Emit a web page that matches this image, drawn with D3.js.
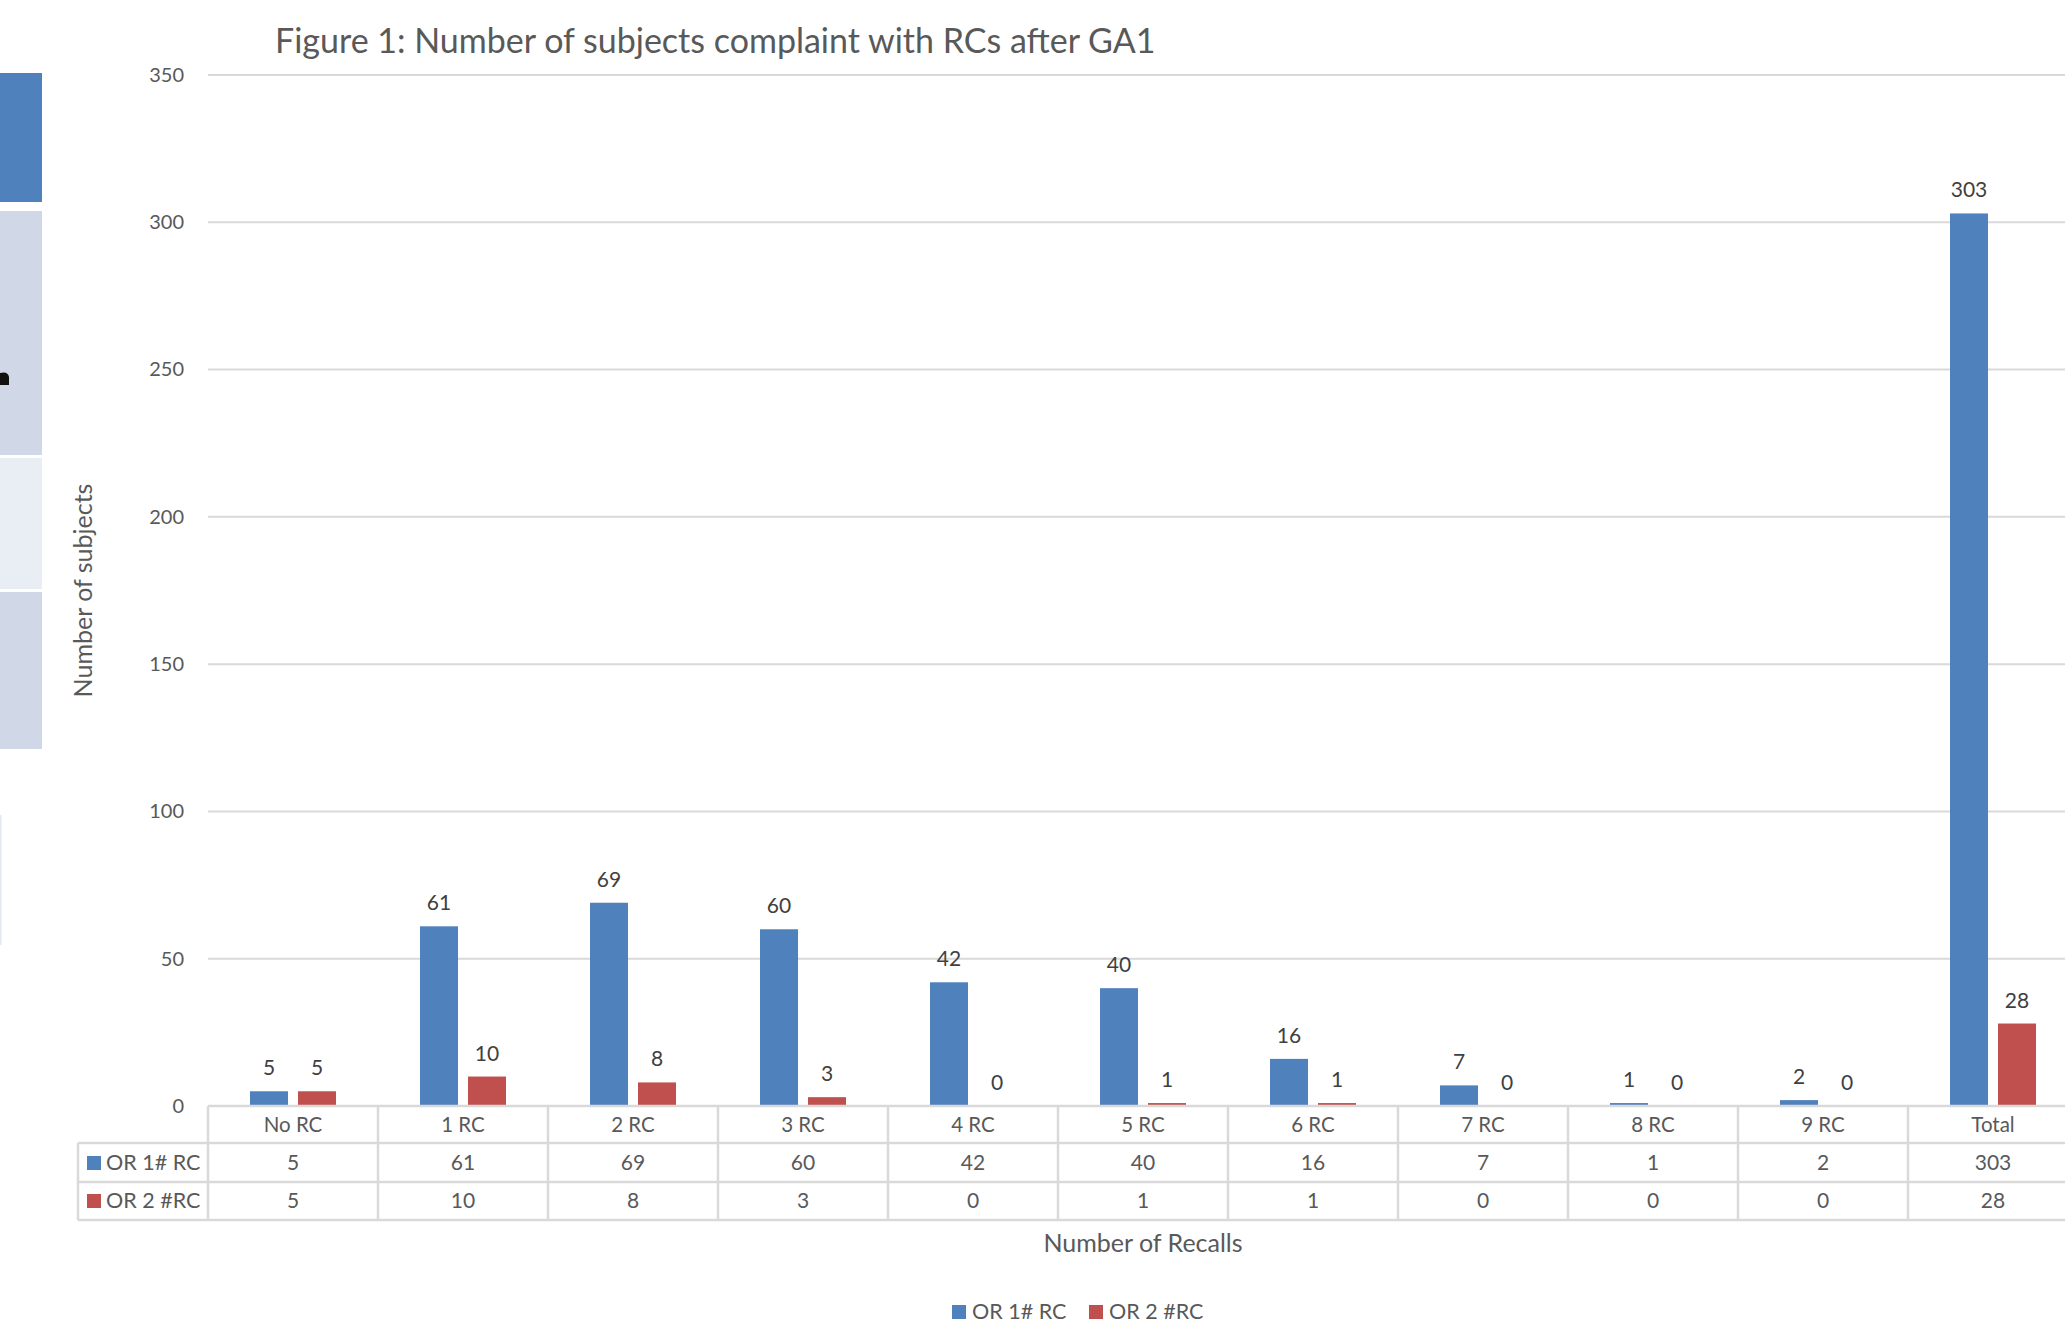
<!DOCTYPE html>
<html>
<head>
<meta charset="utf-8">
<script src="https://cdn.jsdelivr.net/npm/d3@7"></script>
<style>
  html, body { margin: 0; padding: 0; background: #ffffff; }
  svg { display: block; }
  text { font-family: Lato, "Open Sans", sans-serif; }
</style>
</head>
<body>
<svg id="chart" width="2065" height="1335"></svg>
<script>
// Recall counts per category
const categories = ["No RC", "1 RC", "2 RC", "3 RC", "4 RC", "5 RC", "6 RC", "7 RC", "8 RC", "9 RC", "Total"];
const seriesNames = ["OR 1# RC", "OR 2 #RC"];
const or1Values = [5, 61, 69, 60, 42, 40, 16, 7, 1, 2, 303];
const or2Values = [5, 10, 8, 3, 0, 1, 1, 0, 0, 0, 28];
const yTickValues = [0, 50, 100, 150, 200, 250, 300, 350];

const seriesColors = ["#4f81bd", "#c0504d"];
const textColor = "#595959";
const labelColor = "#404040";
const lineColor = "#d9d9d9";

const svg = d3.select("#chart");

// plot frame
const plotLeft = 208, colWidth = 170;
const plotRight = plotLeft + colWidth * categories.length;
const plotTop = 75, plotBottom = 1106;

const x = d3.scaleBand().domain(categories).range([plotLeft, plotRight]).padding(0);
const xSeries = d3.scaleBand().domain(seriesNames).range([42, 128]).paddingInner(0.208);
const y = d3.scaleLinear().domain([0, 350]).range([plotBottom, plotTop]);

// slide panels at the left edge
const side = svg.append("g");
[
  { y0: 73, y1: 202, fill: "#4f81bd" },
  { y0: 211, y1: 455, fill: "#d0d8e8" },
  { y0: 458, y1: 589, fill: "#e9edf4" },
  { y0: 592, y1: 749, fill: "#d0d8e8" }
].forEach(p => side.append("rect").attr("x", 0).attr("y", p.y0).attr("width", 42).attr("height", p.y1 - p.y0).attr("fill", p.fill));
side.append("path").attr("d", "M0,373 Q8,371 9,377 L9,385 L0,385 Z").attr("fill", "#111");
side.append("rect").attr("x", 0).attr("y", 815).attr("width", 1.5).attr("height", 130).attr("fill", "#e3e8f1");

// title
svg.append("text")
  .attr("x", 275).attr("y", 53)
  .attr("font-size", 34).attr("fill", textColor)
  .text("Figure 1: Number of subjects complaint with RCs after GA1");

// gridlines
svg.append("g").selectAll("line")
  .data(yTickValues.filter(v => v > 0))
  .join("line")
  .attr("x1", plotLeft).attr("x2", plotRight)
  .attr("y1", d => y(d)).attr("y2", d => y(d))
  .attr("stroke", lineColor).attr("stroke-width", 2);

// y axis labels
const yAxis = d3.axisLeft(y).tickValues(yTickValues).tickSize(0).tickPadding(0).tickFormat(d3.format("d"));
const yAxisG = svg.append("g").attr("transform", "translate(184,0)").call(yAxis);
yAxisG.select(".domain").remove();
yAxisG.selectAll("text").attr("font-size", 20).attr("fill", textColor).attr("font-family", "Lato, sans-serif");

// y axis title
svg.append("text")
  .attr("transform", `translate(92,${(plotTop + plotBottom) / 2}) rotate(-90)`)
  .attr("text-anchor", "middle").attr("font-size", 25).attr("fill", textColor)
  .text("Number of subjects");

// bars
const seriesData = [or1Values, or2Values];
const barsG = svg.append("g");
seriesData.forEach((vals, si) => {
  const data = categories.map((c, i) => ({ cat: c, value: vals[i] }));
  barsG.append("g").selectAll("rect")
    .data(data)
    .join("rect")
    .attr("x", d => x(d.cat) + xSeries(seriesNames[si]))
    .attr("y", d => y(d.value))
    .attr("width", xSeries.bandwidth())
    .attr("height", d => y(0) - y(d.value))
    .attr("fill", seriesColors[si]);
  barsG.append("g").selectAll("text")
    .data(data)
    .join("text")
    .attr("x", d => x(d.cat) + xSeries(seriesNames[si]) + xSeries.bandwidth() / 2)
    .attr("y", d => y(d.value) - 16)
    .attr("text-anchor", "middle")
    .attr("font-size", 21).attr("fill", labelColor)
    .text(d => d.value);
});

// data table beneath the axis
const tableLeft = 78;
const rowY = [1106, 1143, 1182, 1220];
const tableG = svg.append("g");
tableG.append("line").attr("x1", plotLeft).attr("x2", plotRight).attr("y1", rowY[0]).attr("y2", rowY[0]).attr("stroke", lineColor).attr("stroke-width", 2.5);
[rowY[1], rowY[2], rowY[3]].forEach(ry => tableG.append("line").attr("x1", tableLeft).attr("x2", plotRight).attr("y1", ry).attr("y2", ry).attr("stroke", lineColor).attr("stroke-width", 2.5));
tableG.append("line").attr("x1", tableLeft).attr("x2", tableLeft).attr("y1", rowY[1]).attr("y2", rowY[3]).attr("stroke", lineColor).attr("stroke-width", 2.5);
categories.concat(["end"]).forEach((c, i) => {
  const cx = plotLeft + i * x.bandwidth();
  tableG.append("line").attr("x1", cx).attr("x2", cx).attr("y1", rowY[0]).attr("y2", rowY[3]).attr("stroke", lineColor).attr("stroke-width", 2.5);
});

// category row
tableG.append("g").selectAll("text")
  .data(categories).join("text")
  .attr("x", d => x(d) + x.bandwidth() / 2).attr("y", 1132)
  .attr("text-anchor", "middle").attr("font-size", 20.5).attr("fill", textColor)
  .text(d => d);

// value rows
const rowBaselines = [1170, 1208];
seriesData.forEach((vals, si) => {
  tableG.append("rect").attr("x", 87).attr("y", rowBaselines[si] - 14).attr("width", 14).attr("height", 14).attr("fill", seriesColors[si]);
  tableG.append("text").attr("x", 106).attr("y", rowBaselines[si]).attr("font-size", 21.5).attr("fill", textColor).text(seriesNames[si]);
  tableG.append("g").selectAll("text")
    .data(categories.map((c, i) => ({ cat: c, value: vals[i] })))
    .join("text")
    .attr("x", d => x(d.cat) + x.bandwidth() / 2).attr("y", rowBaselines[si])
    .attr("text-anchor", "middle").attr("font-size", 21).attr("fill", textColor)
    .text(d => d.value);
});

// x axis title
svg.append("text")
  .attr("x", (plotLeft + plotRight) / 2).attr("y", 1252)
  .attr("text-anchor", "middle").attr("font-size", 25).attr("fill", textColor)
  .text("Number of Recalls");

// legend
const legendItems = [{ name: seriesNames[0], x: 952 }, { name: seriesNames[1], x: 1089 }];
const legendG = svg.append("g");
legendItems.forEach((item, i) => {
  legendG.append("rect").attr("x", item.x).attr("y", 1305).attr("width", 14).attr("height", 14).attr("fill", seriesColors[i]);
  legendG.append("text").attr("x", item.x + 20).attr("y", 1319).attr("font-size", 21.5).attr("fill", textColor).text(item.name);
});
</script>
</body>
</html>
